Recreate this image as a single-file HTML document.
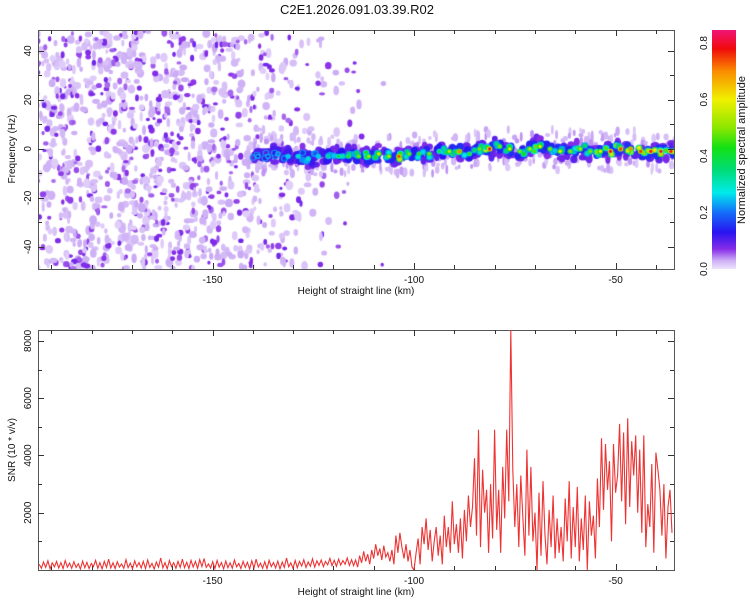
<!DOCTYPE html>
<html><head><meta charset="utf-8">
<style>
body{margin:0;background:#fff;width:750px;height:600px;overflow:hidden;font-family:"Liberation Sans",sans-serif;}
#wrap{position:relative;width:750px;height:600px;}
canvas{position:absolute;left:38px;top:30px;}
svg{position:absolute;left:0;top:0;}
</style></head><body>
<div id="wrap">
<canvas id="hm" width="636" height="239"></canvas>
<svg id="s" width="750" height="600"></svg>
</div>
<script>
// ---- data ----
const xDomain = [-193.3, -35.5];
const freqDomain = [-49, 48.5];
const snrDomain = [0, 8380];
const xTickLabels = [-150, -100, -50];
const freqTickLabels = [-40, -20, 0, 20, 40];
const snrTickLabels = [2000, 4000, 6000, 8000];
const cbTickLabels = [0.0, 0.2, 0.4, 0.6, 0.8];
// noise density (blobs per 5 km bin) starting at -195 km
const noiseBinStart = -195;
const noiseDensity = [85,105,105,105,105,105,105,100,95,88,78,62,48,34,22,14,6,2];
// ridge (spectral line) every 2.5 km starting at -140 km
const ridgeStart = -140;
const ridgeFreq = [-3,-3,-2,-3,-3,-4,-3,-3,-3,-3,-3,-3,-2,-3,-3,-2,-2,-2,-1,-1,-1,-2,0,0,1,0,-1,0,1,0,-1,-1,0,-1,-1,-1,0,0,-1,-1,-1,-1];
const ridgeAmp = [0.15,0.15,0.2,0.25,0.3,0.3,0.25,0.35,0.4,0.45,0.5,0.55,0.6,0.55,0.75,0.5,0.45,0.5,0.4,0.55,0.7,0.45,0.5,0.8,0.5,0.6,0.5,0.55,0.6,0.5,0.6,0.5,0.55,0.5,0.6,0.8,0.75,0.7,0.75,0.8,0.8,0.8];
// SNR baseline from -193 to -115.5 (evenly spaced)
const snrBaseStart = -193, snrBaseEnd = -115.5;
const snrBase = [200,60,280,90,320,40,250,110,300,70,260,50,330,100,240,60,290,90,220,30,310,80,270,50,230,120,340,60,260,40,300,90,380,70,250,50,290,100,210,60,360,80,240,40,320,110,260,70,300,50,350,90,230,30,280,100,420,70,260,40,330,120,250,60,300,90,380,80,270,50,340,100,300,60,360,120,400,90,
210,70,290,50,330,100,260,40,310,80,250,60,350,110,230,50,300,90,270,40,320,70,380,100,240,60,290,50,340,120,260,70,310,40,280,90,420,110,250,60,330,80,300,140,360,90,280,130,390,100,320,160,350,120,300,180,410,150,340,130,380,170,330,200,420,160,360];
// SNR every 0.5 km from -115 to -36
const snrStart = -115;
const snrVals = [150,350,100,500,250,650,300,550,200,700,400,
900,500,750,350,850,450,600,300,700,200,
1200,600,1300,800,400,900,300,700,100,0,
600,1100,200,1500,900,1800,700,1400,300,1000,
1500,500,1200,200,1900,800,1500,600,2400,900,
1600,600,1800,400,2100,1000,2600,1500,2200,3900,
1200,4900,800,3500,2000,2800,600,3000,1100,4900,
1400,2800,600,3600,1800,4900,2400,8400,3500,1500,
3000,800,3300,1800,500,4200,1200,3600,1000,2000,
0,2700,500,3100,1200,200,2100,800,2600,400,
1800,600,1500,300,2500,1000,3100,400,2200,800,
2900,300,1800,700,2600,0,2400,1200,1900,400,
3200,1500,4600,2100,4400,2800,3800,1000,4400,2700,
3300,5100,2400,4800,1600,5300,2200,4500,3300,4700,
2000,4200,1300,4700,800,2300,1500,3700,600,4100,
3500,2800,1200,3000,400,2200,2800,1300];

// ---- layout ----
const P1={l:38,r:674,t:30,b:269}, P2={l:38,r:674,t:330,b:570}, CB={l:712,r:736,t:30,b:269};
const sx=v=>P1.l+(v-xDomain[0])/(xDomain[1]-xDomain[0])*(P1.r-P1.l);
const sy1=v=>P1.b-(v-freqDomain[0])/(freqDomain[1]-freqDomain[0])*(P1.b-P1.t);
const sy2=v=>P2.b-(v-snrDomain[0])/(snrDomain[1]-snrDomain[0])*(P2.b-P2.t);
const cbMax=0.846;
const scb=v=>CB.b-v/cbMax*(CB.b-CB.t);

const stops=[[0,[238,228,252]],[0.03,[205,175,245]],[0.07,[135,45,232]],[0.13,[40,20,240]],[0.2,[20,110,250]],[0.27,[0,235,235]],[0.35,[0,220,120]],[0.43,[20,225,20]],[0.5,[140,230,0]],[0.6,[240,240,0]],[0.7,[250,140,0]],[0.78,[240,10,10]],[0.85,[240,20,120]]];
function cmap(v){
  for(let i=1;i<stops.length;i++){ if(v<=stops[i][0]){const a=stops[i-1],b=stops[i];const t=(v-a[0])/(b[0]-a[0]);
    return 'rgb('+a[1].map((c,k)=>Math.round(c+(b[1][k]-c)*t)).join(',')+')';}}
  return 'rgb(240,20,120)';
}
// deterministic texture generator
let seed=12345;function rnd(){seed=(seed*1103515245+12345)%2147483648;return seed/2147483648;}

// ---- heatmap ----
const cv=document.getElementById('hm'),ctx=cv.getContext('2d');
ctx.translate(-P1.l,-P1.t);
function blob(x,y,rx,ry,v){ctx.fillStyle=cmap(v);ctx.beginPath();ctx.ellipse(x,y,rx,ry,0,0,Math.PI*2);ctx.fill();}
ctx.filter='blur(0.7px)';
noiseDensity.forEach((n,i)=>{
  const k0=noiseBinStart+i*5;
  for(let j=0;j<n;j++){
    const k=k0+rnd()*5, f=freqDomain[0]+rnd()*(freqDomain[1]-freqDomain[0]);
    const r=rnd();
    if(r<0.65) blob(sx(k),sy1(f),1.5+rnd()*2.5,2+rnd()*3,0.012+rnd()*0.02);
    else blob(sx(k),sy1(f),1.5+rnd()*1.8,1.5+rnd()*2.2,0.05+rnd()*0.035);
  }
});
// ridge halo
ridgeFreq.forEach((f,i)=>{
  const k=ridgeStart+i*2.5;
  for(let j=0;j<8;j++){const kk=k+rnd()*2.5, ff=f+(rnd()-0.5)*16;
    blob(sx(kk),sy1(ff),1.2+rnd()*1.5,2+rnd()*3,0.015+rnd()*0.025);}
});
ridgeFreq.forEach((f,i)=>{
  const k=ridgeStart+i*2.5;
  for(let j=0;j<5;j++){const kk=k+rnd()*2.5, ff=f+(rnd()-0.5)*7;
    blob(sx(kk),sy1(ff),2.5+rnd()*2,2.5+rnd()*2.5,0.07+rnd()*0.03);}
});
ridgeFreq.forEach((f,i)=>{
  const k=ridgeStart+i*2.5,a=ridgeAmp[i];
  for(let j=0;j<4;j++){const kk=k+rnd()*2.5, ff=f+(rnd()-0.5)*4;
    blob(sx(kk),sy1(ff),3.5,3.8,Math.min(0.15,0.09+a*0.1));}
});
ridgeFreq.forEach((f,i)=>{
  const k=ridgeStart+i*2.5,a=ridgeAmp[i];
  for(let j=0;j<2;j++){const kk=k+rnd()*2.5, ff=f+(rnd()-0.5)*3;
    const v=a*(0.5+rnd()*0.35); blob(sx(kk),sy1(ff),3.5,3.2,Math.max(0.22,v*0.6)); blob(sx(kk),sy1(ff),2.2,2.2,v);}
  blob(sx(k+1.25),sy1(f),2.8,2.6,Math.max(0.25,a*0.7));
  blob(sx(k+1.25),sy1(f),1.6,1.6,a);
});

// ---- svg ----
const NS='http://www.w3.org/2000/svg',svg=document.getElementById('s');
function el(t,a,p){const e=document.createElementNS(NS,t);for(const k in a)e.setAttribute(k,a[k]);(p||svg).appendChild(e);return e;}
function txt(x,y,s,size,rot,name){const e=el('text',{x:x,y:y,'font-size':size,'text-anchor':'middle',fill:'#111','font-family':'Liberation Sans, sans-serif'});
  if(rot)e.setAttribute('transform','rotate(-90 '+x+' '+y+')');e.textContent=s;
  
  return e;}

txt(357,14,'C2E1.2026.091.03.39.R02',13,false,'chart-title');

// colorbar
const defs=el('defs',{});const lg=el('linearGradient',{id:'cg',x1:0,y1:1,x2:0,y2:0},defs);
stops.forEach(s=>{el('stop',{offset:(s[0]/cbMax*100)+'%','stop-color':cmap(s[0])},lg);});
const cbr=el('rect',{x:CB.l,y:CB.t,width:CB.r-CB.l,height:CB.b-CB.t,fill:'url(#cg)'});


cbTickLabels.forEach(v=>{txt(707,scb(v),v.toFixed(1),10,true,'colorbar-tick-label');});
txt(745,150,'Normalized spectral amplitude',11,true,'colorbar-title');

function axes(P,ysc,yMinor,yLabels,fmt,prefix){
  const fr=el('rect',{x:P.l+0.5,y:P.t+0.5,width:P.r-P.l,height:P.b-P.t,fill:'none',stroke:'#555','stroke-width':1});
  
  
  for(let k=-190;k<=-40;k+=10){const x=Math.round(sx(k))+0.5,len=(k%50===0)?6:4;
    el('line',{x1:x,x2:x,y1:P.b,y2:P.b-len,stroke:'#333'});el('line',{x1:x,x2:x,y1:P.t,y2:P.t+len,stroke:'#333'});}
  xTickLabels.forEach(k=>{txt(sx(k),P.b+14,String(k),10,false,prefix+'-x-tick-label');});
  yMinor.forEach(v=>{const y=Math.round(ysc(v))+0.5,len=yLabels.includes(v)?6:4;
    el('line',{x1:P.l,x2:P.l+len,y1:y,y2:y,stroke:'#333'});el('line',{x1:P.r,x2:P.r-len,y1:y,y2:y,stroke:'#333'});});
  yLabels.forEach(v=>{txt(31,ysc(v),fmt(v),10,true,prefix+'-y-tick-label');});
  txt(356,P.b+25,'Height of straight line (km)',10,false,prefix+'-x-axis-title');
}
const fm=[];for(let v=-40;v<=40;v+=10)fm.push(v);
axes(P1,sy1,fm,freqTickLabels,v=>String(v),'spectrogram');
const sm=[];for(let v=1000;v<=8000;v+=1000)sm.push(v);
axes(P2,sy2,sm,snrTickLabels,v=>String(v),'snr');
txt(15,149,'Frequency (Hz)',10,true,'spectrogram-y-axis-title');
txt(15,450,'SNR (10 * v/v)',10,true,'snr-y-axis-title');

// SNR line
const pts=[];
const bstep=(snrBaseEnd-snrBaseStart)/(snrBase.length-1);
snrBase.forEach((v,i)=>pts.push([snrBaseStart+i*bstep,v]));
snrVals.forEach((v,i)=>pts.push([snrStart+i*0.5,v]));
const clip=el('clipPath',{id:'c2'},defs);el('rect',{x:P2.l,y:P2.t,width:P2.r-P2.l,height:P2.b-P2.t},clip);
const line=el('polyline',{points:pts.map(p=>sx(p[0]).toFixed(1)+','+sy2(p[1]).toFixed(1)).join(' '),fill:'none',stroke:'#ee3333','stroke-width':1.1,'clip-path':'url(#c2)'});


</script>
</body></html>
